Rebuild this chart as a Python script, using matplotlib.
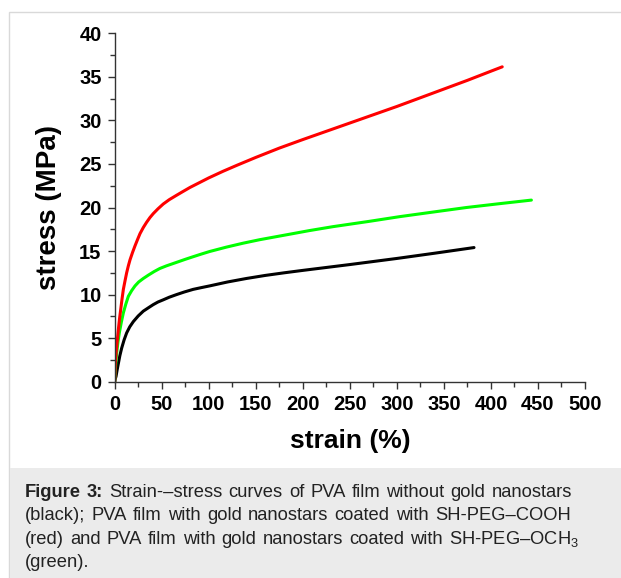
import matplotlib
matplotlib.use("Agg")
import matplotlib.pyplot as plt
from matplotlib.patches import Rectangle
from matplotlib.ticker import MultipleLocator

plt.rcParams['font.family'] = ['Liberation Sans', 'DejaVu Sans']
plt.rcParams['mathtext.fontset'] = 'custom'
plt.rcParams['mathtext.rm'] = 'Liberation Sans'

# strain (%) / stress (MPa)
strain_black = [0, 0.5, 1.4, 2.5, 3.9, 5.5, 7.4, 10, 12.7, 16, 19.8, 25, 30.4, 36, 41, 46, 51.6, 58, 65.7,
                74, 83.4, 92, 101, 120, 140, 160, 180, 200, 250, 300, 340, 382]
stress_black = [0, 0.3, 0.6, 1.3, 2.1, 3.0, 3.85, 4.8, 5.6, 6.3, 6.9, 7.55, 8.1, 8.5, 8.85, 9.15, 9.4, 9.7, 10.0,
                10.3, 10.6, 10.8, 11.0, 11.45, 11.85, 12.2, 12.5, 12.78, 13.45, 14.15, 14.75, 15.4]

strain_red = [0, 0.3, 0.7, 1.3, 2.1, 3.0, 3.9, 5.1, 6.4, 7.8, 9.2, 11, 12.7, 14.5, 16.3, 19, 21.6, 24.2, 26.9,
              30.4, 33.9, 37.5, 41, 46, 51.6, 58, 65.7, 72, 80, 90, 100, 115, 130, 150, 175, 200, 225, 250,
              275, 300, 325, 350, 375, 400, 412]
stress_red = [0, 1.0, 2.1, 3.1, 4.0, 5.0, 6.0, 7.2, 8.3, 9.5, 10.6, 11.6, 12.5, 13.3, 14.0, 14.85, 15.6, 16.3, 17.0,
              17.7, 18.3, 18.85, 19.3, 19.85, 20.4, 20.9, 21.4, 21.8, 22.3, 22.85, 23.4, 24.15, 24.85, 25.75,
              26.82, 27.8, 28.75, 29.7, 30.65, 31.6, 32.6, 33.6, 34.6, 35.65, 36.15]

strain_green = [0, 0.3, 0.7, 1.3, 2.1, 3.4, 4.9, 7, 9.2, 11.8, 14.5, 18, 21.6, 25.5, 30.4, 36, 42, 48, 55,
                65.7, 75, 83.4, 92, 101, 118.7, 136.4, 154, 171.7, 189.4, 207, 232, 270, 303, 340, 374, 410, 443]
stress_green = [0, 0.7, 1.35, 2.3, 3.3, 4.5, 5.6, 6.8, 7.9, 8.9, 9.8, 10.45, 11.0, 11.45, 11.85, 12.25, 12.65, 13.0, 13.3,
                13.7, 14.05, 14.35, 14.65, 14.95, 15.45, 15.9, 16.3, 16.65, 17.0, 17.35, 17.8, 18.4, 18.95, 19.5, 20.0,
                20.45, 20.85]

caption_lines = [
    "**Figure **3: Strain-–stress curves of PVA film without gold nanostars",
    "(black); PVA film with gold nanostars coated with SH-PEG–COOH",
    r"(red) and PVA film with gold nanostars coated with SH-PEG–OCH$_\mathregular{3}$",
    "(green).",
]
caption_right = [572, 570.5, 579, None]  # justified right edge in px (last line ragged)

W, H = 621, 578
fig = plt.figure(figsize=(W / 100, H / 100), dpi=100)

# outer frame and caption panel
fig.add_artist(Rectangle((9 / W, -0.01), 1.1, 1 - 12.3 / H + 0.01, transform=fig.transFigure,
                         fill=False, ec='#d9d9d9', lw=1))
fig.add_artist(Rectangle((9.5 / W, 0), 1.1, (H - 468.3) / H, transform=fig.transFigure,
                         fc='#ebebeb', ec='none'))

ax = fig.add_axes([114.7 / W, 1 - 381.7 / H, 470.3 / W, 348.4 / H])
ax.plot(strain_black, stress_black, color='black', lw=2.2, solid_capstyle='round', solid_joinstyle='round')
ax.plot(strain_green, stress_green, color='#00ff00', lw=2.2, solid_capstyle='round', solid_joinstyle='round')
ax.plot(strain_red, stress_red, color='#ff0000', lw=2.2, solid_capstyle='round', solid_joinstyle='round')

ax.set_xlim(0, 500)
ax.set_ylim(0, 40)
ax.xaxis.set_major_locator(MultipleLocator(50))
ax.xaxis.set_minor_locator(MultipleLocator(25))
ax.yaxis.set_major_locator(MultipleLocator(5))
ax.yaxis.set_minor_locator(MultipleLocator(2.5))

for side in ['top', 'right']:
    ax.spines[side].set_visible(False)
for side in ['left', 'bottom']:
    ax.spines[side].set_color('#333333')
    ax.spines[side].set_linewidth(1.0)

ax.tick_params(which='major', direction='out', length=5, width=1, color='#333333',
               labelsize=14.5, pad=4.5)
ax.tick_params(which='minor', direction='out', length=3.5, width=1, color='#333333')
for lbl in ax.get_xticklabels() + ax.get_yticklabels():
    lbl.set_fontweight('bold')

ax.set_xlabel('strain (%)', fontsize=19, fontweight='bold', labelpad=11)
ax.set_ylabel('stress (MPa)', fontsize=20, fontweight='bold', labelpad=12)

# caption, justified word by word
cap_size = 13.2
left = 25
baselines = [496.7, 520.2, 543.7, 567.2]
renderer = fig.canvas.get_renderer()
for line, yb, right in zip(caption_lines, baselines, caption_right):
    words = []
    for w in line.split(' '):
        bold = w.startswith('**')
        words.append((w.replace('**', ''), bold))
    # "Figure 3:" bold prefix
    if line.startswith('**'):
        words = [("Figure", True), ("3:", True)] + [(w, False) for w, _ in words[2:]]
    texts = []
    for w, bold in words:
        t = fig.text(0, 1 - yb / H, w, fontsize=cap_size, fontweight='bold' if bold else 'normal',
                     color='#222222', va='baseline', ha='left')
        texts.append(t)
    widths = [t.get_window_extent(renderer).width for t in texts]
    space = fig.text(0, 0, 'a a', fontsize=cap_size).get_window_extent(renderer).width - \
        2 * fig.text(0, 0, 'a', fontsize=cap_size).get_window_extent(renderer).width
    for t in fig.texts[-2:]:
        t.remove()
    if right is not None and len(texts) > 1:
        gap = (right - left - sum(widths)) / (len(texts) - 1)
    else:
        gap = space
    x = left
    for t, wd in zip(texts, widths):
        t.set_x(x / W)
        x += wd + gap

fig.savefig('out.png', dpi=100)
